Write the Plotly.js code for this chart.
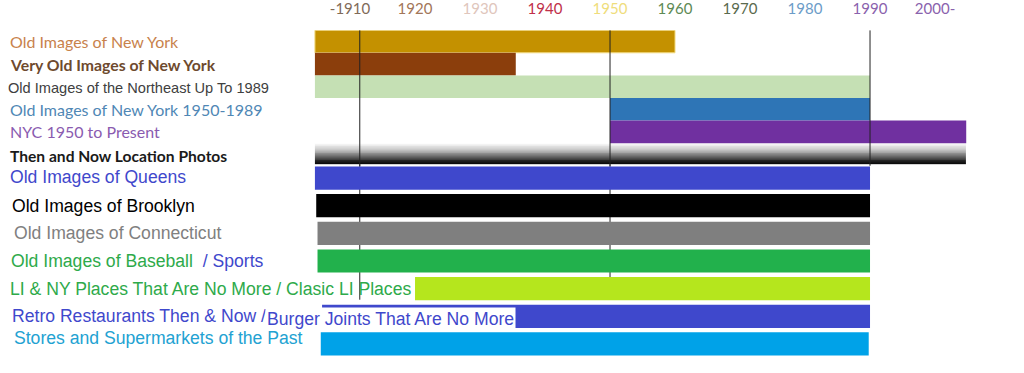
<!DOCTYPE html>
<html>
<head>
<meta charset="utf-8">
<script src="https://cdn.plot.ly/plotly-3.0.1.min.js"></script>
<style>
  html, body { margin: 0; padding: 0; background: #ffffff; }
  #chart { width: 1024px; height: 373px; }
</style>
</head>
<body>
<div id="chart"></div>
<script>
// ---------------- DATA ----------------
const categories = [
  'Old Images of New York',
  'Very Old Images of New York',
  'Old Images of the Northeast Up To 1989',
  'Old Images of New York 1950-1989',
  'NYC 1950 to Present',
  'Then and Now Location Photos',
  'Old Images of Queens',
  'Old Images of Brooklyn',
  'Old Images of Connecticut',
  'Old Images of Baseball',
  'LI & NY Places That Are No More / Clasic LI Places',
  'Retro Restaurants Then & Now /',
  'Stores and Supermarkets of the Past'
];
const startYear = [1904.6, 1904.6, 1904.6, 1950, 1950, 1904.6, 1904.6, 1904.8, 1905, 1905, 1920, 1905.7, 1905.5];
const endYear   = [1960,   1935.5, 1990,   1990, 2004.8, 2004.8, 1990, 1990, 1990, 1990, 1990, 1990, 1989.8];
const baseballSuffix = '/ Sports';
const burgerLabel = 'Burger Joints That Are No More';
const tickYears  = [1910, 1920, 1930, 1940, 1950, 1960, 1970, 1980, 1990, 2000];
const tickLabels = ['-1910', '1920', '1930', '1940', '1950', '1960', '1970', '1980', '1990', '2000-'];
const refLineYears = [1911.5, 1950, 1990];

// ---------------- STYLE ----------------
const barColors = ['#c49100', '#8b3e0c', '#c5e0b4', '#2e75b6', '#7030a0', 'gradient',
                   '#3f48cc', '#000000', '#7f7f7f', '#22b14c', '#b5e61d', '#3f48cc', '#00a2e8'];
const gradientScale = [[0, '#f6f6f6'], [0.25, '#cfcfcf'], [0.55, '#7a7a7a'], [0.82, '#222222'], [1, '#000000']];
const labelColors = ['#c8824c', '#6e4a2e', '#404040', '#4f87b5', '#8a5bb0', '#1a1a1a',
                     '#3f48cc', '#000000', '#808080', '#2eaa4a', '#2eaa4a', '#3f48cc', '#22a2d2'];
const labelFonts = ['Lato', 'Lato', 'Liberation Sans', 'Lato', 'Lato', 'Lato',
                    'Liberation Sans', 'Liberation Sans', 'Liberation Sans', 'Liberation Sans',
                    'Liberation Sans', 'Liberation Sans', 'Liberation Sans'];
const labelSizes = [16, 15.8, 14.6, 16, 16, 15.6, 17.6, 17.6, 17.6, 17.6, 17.6, 17.6, 17.6];
const labelBold  = [false, true, false, false, false, true, false, false, false, false, false, false, false];
const labelXShift = [8, 8, 6, 8, 8, 8, 8, 10, 12, 9, 8, 10, 12];
const labelYShift = [0, 0, -1, 0, 0, -2, 1, 0, 0, 0, 0, 0, 6];
const tickColors = ['#7f6a58', '#a27659', '#e0c6bc', '#c0304a', '#efdd7c', '#5e8a55',
                    '#5a6a4e', '#6c9cc8', '#8a62ad', '#8a62ad'];
const topRows = 6;          // rows drawn on the upper (tight) axis
const barWidthTop = 1.0;
const barWidthBottom = 0.84;
const gradientHalf = 0.47;  // half-thickness of the gradient bar (row units)
const gradientSteps = 24;

const traces = [];
categories.forEach((c, i) => {
  const ax = i < topRows ? 'y' : 'y2';
  if (barColors[i] === 'gradient') {
    // gradient bar: one-column heatmap spanning the bar's years, shaded top (light) -> bottom (black)
    const yEdges = [], z = [];
    for (let k = 0; k <= gradientSteps; k++) yEdges.push(i - gradientHalf + 2 * gradientHalf * k / gradientSteps);
    for (let k = 0; k < gradientSteps; k++) z.push([(k + 0.5) / gradientSteps]);
    traces.push({
      type: 'heatmap', x: [startYear[i], endYear[i]], y: yEdges, z: z,
      yaxis: ax, colorscale: gradientScale, zmin: 0, zmax: 1,
      showscale: false, hoverinfo: 'skip'
    });
  } else {
    traces.push({
      type: 'bar', orientation: 'h',
      y: [i], x: [endYear[i] - startYear[i]], base: [startYear[i]],
      width: [i < topRows ? barWidthTop : barWidthBottom],
      yaxis: ax,
      marker: { color: barColors[i], line: { width: i === 0 ? 1 : 0, color: '#f3dc84' } },
      hoverinfo: 'skip', showlegend: false
    });
  }
});

const annotations = categories.map((c, i) => {
  let txt = c;
  if (labelBold[i]) txt = '<b>' + txt + '</b>';
  if (i === 9) txt = txt + '\u00a0\u00a0<span style="color:#3f48cc">' + baseballSuffix + '</span>';
  return {
    xref: 'paper', x: 0, xanchor: 'left', xshift: labelXShift[i],
    yref: i < topRows ? 'y' : 'y2', y: i, yanchor: 'middle', yshift: labelYShift[i],
    text: txt, showarrow: false,
    font: { family: labelFonts[i], size: labelSizes[i], color: labelColors[i] }
  };
});
annotations.push({
  xref: 'paper', x: 0, xanchor: 'left', xshift: 265,
  yref: 'y2', y: 11, yanchor: 'middle', yshift: -3,
  text: burgerLabel, showarrow: false, bgcolor: '#ffffff', borderpad: 1,
  font: { family: 'Liberation Sans', size: 17.6, color: '#3f48cc' }
});

const shapes = [];
refLineYears.forEach((yr, k) => {
  shapes.push({
    type: 'line', xref: 'x', yref: 'y', x0: yr, x1: yr, y0: -0.5, y1: topRows - 0.45,
    line: { color: '#222222', width: 1 }, layer: 'above'
  });
  if (k < 2) {
    shapes.push({
      type: 'line', xref: 'x', yref: 'y2', x0: yr, x1: yr, y0: topRows - 0.5, y1: 10.4,
      line: { color: '#222222', width: 1 }, layer: 'below'
    });
  }
});

const layout = {
  width: 1024, height: 373,
  margin: { l: 0, r: 0, t: 20, b: 0, pad: 0 },
  paper_bgcolor: '#ffffff', plot_bgcolor: '#ffffff',
  barmode: 'overlay',
  xaxis: {
    range: [1856.15, 2013.69], side: 'top', anchor: 'free', position: 1,
    tickvals: tickYears,
    ticktext: tickLabels.map((t, i) => '<span style="color:' + tickColors[i] + '">' + t + '</span>'),
    tickfont: { family: 'Lato', size: 15 },
    ticklabelstandoff: 3,
    showgrid: false, zeroline: false, showline: false, ticks: ''
  },
  yaxis: {
    range: [topRows - 0.5, -0.5], domain: [0.587, 0.9711],
    showticklabels: false, showgrid: false, zeroline: false, showline: false, ticks: ''
  },
  yaxis2: {
    range: [categories.length - 0.5, topRows - 0.5], domain: [0.0431, 0.5915],
    anchor: 'x',
    showticklabels: false, showgrid: false, zeroline: false, showline: false, ticks: ''
  },
  annotations: annotations,
  shapes: shapes,
  showlegend: false
};

Plotly.newPlot('chart', traces, layout, { displayModeBar: false, staticPlot: true });
</script>
</body>
</html>
